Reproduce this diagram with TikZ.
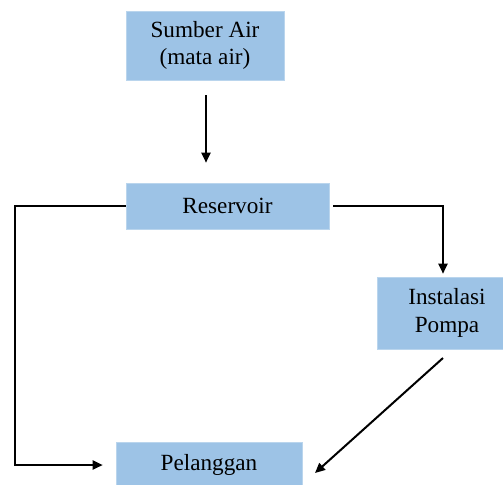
\documentclass[tikz,border=0pt]{standalone}
\usepackage{fontspec}
\setmainfont{Liberation Serif}
\usetikzlibrary{arrows.meta}
\definecolor{boxblue}{HTML}{9DC3E6}
\tikzset{
  box/.style={fill=boxblue, draw=boxblue!70!white, line width=0.3pt, inner sep=0pt, align=center,
    font=\fontsize{11.6pt}{13.6pt}\selectfont},
  conn/.style={line width=1pt, -{Triangle[length=5pt,width=4.5pt]}}
}
\begin{document}
\begin{tikzpicture}[x=0.5pt,y=-0.5pt]
\clip (0,0) rectangle (503,484);
\fill[white] (0,0) rectangle (503,484);
\node[box, minimum width=79pt, minimum height=34.5pt] (sum) at (205,45.5) {Sumber Air\\(mata air)};
\node[box, minimum width=101.5pt, minimum height=23pt] (res) at (227.5,206) {Reservoir};
\node[box, minimum width=70pt, minimum height=36pt] (pom) at (447,313) {Instalasi\\Pompa};
\node[box, minimum width=93pt, minimum height=23pt] (pel) at (209,465) {Pelanggan};
\coordinate (lc) at (15,206);
\coordinate (rc) at (443,206);
\coordinate (d1) at (443,358);
\coordinate (d2) at (315,473);
\draw[conn, shorten <=7.5pt, shorten >=10pt] (sum.south -| 206,0) -- (res.north -| 206,0);
\draw[conn, shorten >=6.5pt] (res.west) -- (lc) |- (pel.west);
\draw[conn, shorten <=2pt, shorten >=1.5pt] (res.east) -- (rc) -- (rc |- pom.north);
\draw[conn] (d1) -- (d2);
\end{tikzpicture}
\end{document}
